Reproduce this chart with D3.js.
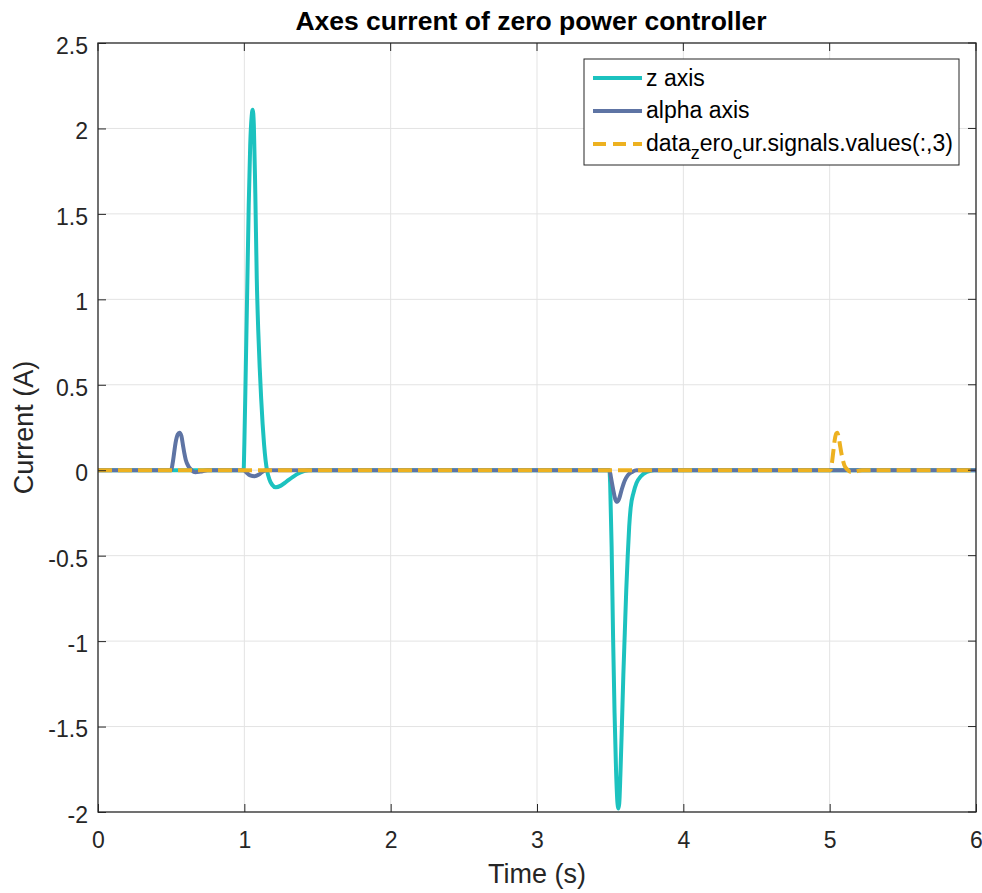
<!DOCTYPE html>
<html>
<head>
<meta charset="utf-8">
<script src="https://cdn.jsdelivr.net/npm/d3@7"></script>
<style>
  body { margin: 0; background: #fff; }
  svg { font-family: "Liberation Sans", Arial, sans-serif; }
  .grid line { stroke: #e3e3e3; stroke-width: 1; }
  .axis text { fill: #262626; font-size: 23px; }
  .axis path, .axis line { stroke: #262626; }
</style>
</head>
<body>
<svg id="chart" width="982" height="893"></svg>
<script>
  // x ticks / y ticks
  var xTicks = [0, 1, 2, 3, 4, 5, 6];
  var yTicks = [-2, -1.5, -1, -0.5, 0, 0.5, 1, 1.5, 2, 2.5];

  // z axis current [time, value]
  var zAxis = [
    [0, 0], [0.995, 0], [1.00, 0.15], [1.01, 0.6], [1.02, 1.07], [1.03, 1.55],
    [1.04, 1.9], [1.05, 2.07], [1.057, 2.11], [1.065, 2.02], [1.075, 1.62],
    [1.085, 1.12], [1.095, 0.82], [1.105, 0.6], [1.115, 0.42], [1.125, 0.27],
    [1.135, 0.15], [1.145, 0.06], [1.155, 0.0], [1.17, -0.05], [1.19, -0.085],
    [1.215, -0.1], [1.25, -0.09], [1.29, -0.065], [1.33, -0.04], [1.38, -0.015],
    [1.44, 0], [3.495, 0], [3.50, -0.08], [3.51, -0.45], [3.52, -0.98],
    [3.53, -1.42], [3.54, -1.75], [3.55, -1.95], [3.555, -1.98], [3.562, -1.95],
    [3.57, -1.78], [3.58, -1.5], [3.59, -1.2], [3.60, -0.95], [3.61, -0.7],
    [3.62, -0.5], [3.63, -0.33], [3.64, -0.22], [3.66, -0.13], [3.68, -0.075],
    [3.71, -0.035], [3.75, -0.01], [3.80, 0], [6, 0]
  ];

  // alpha axis current
  var alphaAxis = [
    [0, 0], [0.50, 0], [0.51, 0.04], [0.52, 0.1], [0.53, 0.16], [0.545, 0.21],
    [0.557, 0.22], [0.57, 0.2], [0.58, 0.15], [0.59, 0.1], [0.60, 0.06],
    [0.62, 0.02], [0.64, 0.0], [0.665, -0.012], [0.70, -0.008], [0.75, 0],
    [0.995, 0], [1.01, -0.01], [1.04, -0.03], [1.07, -0.035], [1.10, -0.025],
    [1.13, -0.005], [1.15, 0], [3.495, 0], [3.505, -0.04], [3.52, -0.11],
    [3.535, -0.17], [3.548, -0.185], [3.56, -0.17], [3.58, -0.11], [3.60, -0.06],
    [3.62, -0.03], [3.65, -0.01], [3.68, 0], [6, 0]
  ];

  // data_zero_cur.signals.values(:,3)
  var thirdSignal = [
    [0, 0], [5.005, 0], [5.015, 0.04], [5.025, 0.11], [5.035, 0.18], [5.045, 0.215],
    [5.052, 0.22], [5.06, 0.2], [5.07, 0.15], [5.08, 0.1], [5.09, 0.06],
    [5.10, 0.03], [5.12, 0.005], [5.145, -0.01], [5.175, -0.008], [5.22, 0], [6, 0]
  ];

  var svg = d3.select('#chart');
  var margin = { left: 98, top: 43, right: 976, bottom: 812 };

  var x = d3.scaleLinear().domain([0, 6]).range([margin.left, margin.right]);
  var y = d3.scaleLinear().domain([-2, 2.5]).range([margin.bottom, margin.top]);

  // grid
  var grid = svg.append('g').attr('class', 'grid');
  grid.selectAll('line.gx')
    .data(xTicks.slice(1, -1))
    .enter().append('line')
    .attr('x1', function(d) { return x(d); })
    .attr('x2', function(d) { return x(d); })
    .attr('y1', margin.top)
    .attr('y2', margin.bottom);
  grid.selectAll('line.gy')
    .data(yTicks.slice(1, -1))
    .enter().append('line')
    .attr('x1', margin.left)
    .attr('x2', margin.right)
    .attr('y1', function(d) { return y(d); })
    .attr('y2', function(d) { return y(d); });

  // series
  var line = d3.line()
    .x(function(d) { return x(d[0]); })
    .y(function(d) { return y(d[1]); })
    .curve(d3.curveMonotoneX);

  var plot = svg.append('g');
  plot.append('path').datum(zAxis)
    .attr('d', line).attr('fill', 'none')
    .attr('stroke', '#1cc2bf').attr('stroke-width', 4).attr('stroke-linejoin', 'round');
  plot.append('path').datum(alphaAxis)
    .attr('d', line).attr('fill', 'none')
    .attr('stroke', '#5e74a4').attr('stroke-width', 4).attr('stroke-linejoin', 'round');
  plot.append('path').datum(thirdSignal)
    .attr('d', line).attr('fill', 'none')
    .attr('stroke', '#edb120').attr('stroke-width', 4)
    .attr('stroke-dasharray', '14,6');

  // axes
  var xAxis = svg.append('g').attr('class', 'axis')
    .attr('transform', 'translate(0,' + margin.bottom + ')')
    .call(d3.axisBottom(x).tickValues(xTicks).tickFormat(d3.format('d'))
      .tickSizeInner(-8).tickSizeOuter(0).tickPadding(20));
  xAxis.select('.domain').remove();

  var yAxis = svg.append('g').attr('class', 'axis')
    .attr('transform', 'translate(' + margin.left + ',0)')
    .call(d3.axisLeft(y).tickValues(yTicks).tickFormat(function(d) { return String(d); })
      .tickSizeInner(-8).tickSizeOuter(0).tickPadding(10));
  yAxis.select('.domain').remove();
  yAxis.selectAll('text').attr('dy', '0.45em');

  // right side and top ticks
  svg.append('g').selectAll('line')
    .data(yTicks)
    .enter().append('line')
    .attr('x1', margin.right).attr('x2', margin.right - 8)
    .attr('y1', function(d) { return y(d); }).attr('y2', function(d) { return y(d); })
    .attr('stroke', '#262626');
  svg.append('g').selectAll('line')
    .data(xTicks)
    .enter().append('line')
    .attr('x1', function(d) { return x(d); }).attr('x2', function(d) { return x(d); })
    .attr('y1', margin.top).attr('y2', margin.top + 8)
    .attr('stroke', '#262626');

  // box
  svg.append('rect')
    .attr('x', margin.left).attr('y', margin.top)
    .attr('width', margin.right - margin.left).attr('height', margin.bottom - margin.top)
    .attr('fill', 'none').attr('stroke', '#262626').attr('stroke-width', 1.3);

  // labels
  svg.append('text')
    .attr('x', 531).attr('y', 30)
    .attr('text-anchor', 'middle').attr('font-size', 26.5).attr('font-weight', 'bold')
    .attr('fill', '#000')
    .text('Axes current of zero power controller');

  svg.append('text')
    .attr('x', (margin.left + margin.right) / 2).attr('y', 883)
    .attr('text-anchor', 'middle').attr('font-size', 27).attr('fill', '#262626')
    .text('Time (s)');

  svg.append('text')
    .attr('transform', 'translate(33,' + ((margin.top + margin.bottom) / 2) + ') rotate(-90)')
    .attr('text-anchor', 'middle').attr('font-size', 27).attr('fill', '#262626')
    .text('Current (A)');

  // legend
  var legend = svg.append('g').attr('transform', 'translate(584,59)');
  legend.append('rect')
    .attr('width', 375).attr('height', 106)
    .attr('fill', '#fff').attr('stroke', '#262626').attr('stroke-width', 1);

  var legendItems = [
    { color: '#1cc2bf', dash: null },
    { color: '#5e74a4', dash: null },
    { color: '#edb120', dash: '13,7' }
  ];
  legendItems.forEach(function(item, i) {
    var cy = 19 + i * 33;
    legend.append('line')
      .attr('x1', 9).attr('x2', 58).attr('y1', cy).attr('y2', cy)
      .attr('stroke', item.color).attr('stroke-width', 4)
      .attr('stroke-dasharray', item.dash);
  });

  var legendText = legend.append('g').attr('font-size', 23).attr('fill', '#000');
  legendText.append('text').attr('x', 62).attr('y', 27).text('z axis');
  legendText.append('text').attr('x', 62).attr('y', 59).text('alpha axis');
  var t3 = legendText.append('text').attr('x', 62).attr('y', 92);
  t3.append('tspan').text('data');
  t3.append('tspan').attr('dy', 8).attr('font-size', 18).text('z');
  t3.append('tspan').attr('dy', -8).text('ero');
  t3.append('tspan').attr('dy', 8).attr('font-size', 18).text('c');
  t3.append('tspan').attr('dy', -8).text('ur.signals.values(:,3)');
</script>
</body>
</html>
